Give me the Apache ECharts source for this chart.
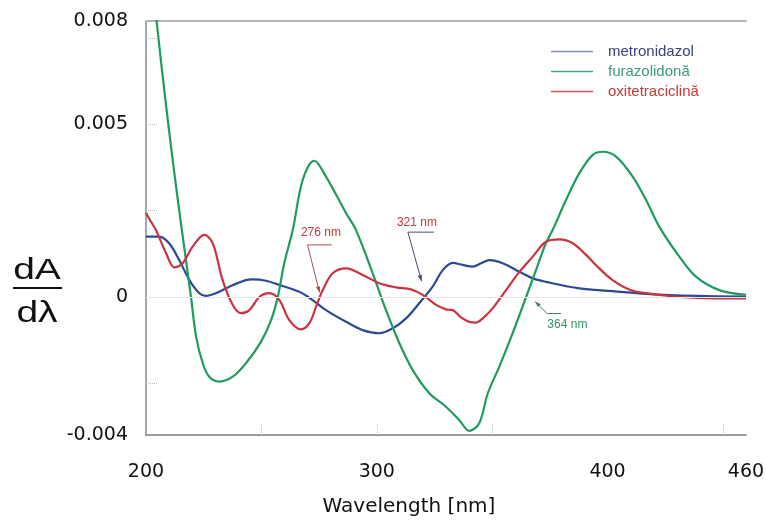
<!DOCTYPE html>
<html>
<head>
<meta charset="utf-8">
<script src="https://cdn.jsdelivr.net/npm/echarts@6/dist/echarts.min.js"></script>
<style>
html,body{margin:0;padding:0;background:#fff;}
#chart{width:766px;height:520px;}
</style>
</head>
<body>
<div id="chart"></div>
<script>
// ---- data ----
const seriesNames = ['metronidazol', 'furazolidonă', 'oxitetraciclină'];

const metroX = [200, 205.8, 210.1, 214.4, 218.8, 223.1, 226, 230.3, 236.1, 243.3, 246.2, 252, 257.8, 266.4, 272.2, 278, 286.7, 293.9, 301.1, 306.9, 312.7, 318.4, 324.2, 328.6, 332.9, 337.2, 341.6, 345.2, 348.8, 354.6, 361.8, 367.6, 373.3, 387.8, 402.2, 416.7, 438.3, 460];
const metroY = [0.00175, 0.00175, 0.00155, 0.00107, 0.00049, 0.00011, 0.00003, 0.00011, 0.0003, 0.00049, 0.00051, 0.00047, 0.00035, 0.00015, -0.00009, -0.00038, -0.00072, -0.00096, -0.00105, -0.00091, -0.00062, -0.00018, 0.0003, 0.00078, 0.00099, 0.00093, 0.00088, 0.00098, 0.00107, 0.00098, 0.00073, 0.00054, 0.00044, 0.00025, 0.00017, 0.00009, 0.00003, 0.00001];

const furaX = [200, 204.6, 209.5, 214, 219.5, 221.7, 224.6, 227.4, 231.8, 237.6, 243.3, 249.8, 254.2, 257.1, 259.9, 263.6, 267.9, 272.9, 278, 286.7, 291, 298.2, 304, 309.8, 315.6, 322.8, 330, 335.8, 340.1, 344.4, 348.1, 353.1, 358.9, 364.7, 369, 373.3, 376.2, 382, 387.8, 393.6, 397.9, 403.7, 410.9, 416.7, 422.4, 431.1, 438.3, 448.4, 460];
const furaY = [0.0112, 0.0080, 0.0051, 0.0027, 0.0, -0.00115, -0.00192, -0.00231, -0.00245, -0.00231, -0.00192, -0.0013, -0.00067, 0.0, 0.00098, 0.00194, 0.00339, 0.00395, 0.00349, 0.00243, 0.00194, 0.00069, -0.00038, -0.00134, -0.00212, -0.00279, -0.00318, -0.00357, -0.00388, -0.00366, -0.00279, -0.00202, -0.00105, 0.0, 0.00078, 0.00156, 0.00194, 0.00281, 0.00359, 0.00412, 0.00421, 0.00407, 0.00349, 0.00281, 0.00204, 0.00117, 0.00059, 0.0002, 0.00006];

const oxiX = [200, 202, 204.3, 208.7, 212.3, 215.9, 220.2, 225.3, 228.9, 233.2, 237.6, 241.2, 244.8, 249.1, 253.4, 257.8, 262.1, 267.2, 270.8, 273.7, 276.6, 280.9, 286.7, 293.9, 301.1, 308.3, 314.8, 319.9, 325.7, 330, 332.9, 336.5, 340.1, 343, 345.9, 350.2, 356, 361.8, 367.6, 373.3, 379.1, 384.9, 390.7, 396.4, 402.2, 409.4, 416.7, 431.1, 445.6, 460];
const oxiY = [0.00243, 0.0022, 0.00194, 0.00127, 0.00086, 0.00098, 0.00146, 0.0018, 0.00156, 0.00049, -0.00023, -0.00047, -0.00038, 0.0, 0.00011, -0.00009, -0.00067, -0.00094, -0.00076, -0.00028, 0.0002, 0.00069, 0.00083, 0.00064, 0.0004, 0.00028, 0.00022, 0.00006, -0.00023, -0.00036, -0.00038, -0.00059, -0.00072, -0.00074, -0.00062, -0.00033, 0.0002, 0.00073, 0.00117, 0.0016, 0.00167, 0.00156, 0.00122, 0.00083, 0.00049, 0.00022, 0.00011, 0.0, -0.00004, -0.00004];

const xTickLabels = [200, 300, 400, 460];
const xMinorTicks = [250, 300, 350, 450];
const yTickValues = [0.008, 0.005, 0, -0.004];
const yTickLabels = ['0.008', '0.005', '0', '-0.004'];
const yMinorTicks = [0.0075, 0.005, 0.0025, -0.0025];

// annotation labels (wavelength crossings)
const annLabels = ['276 nm', '321 nm', '364 nm'];
// ---- end data ----

const lineColors = ['#2c4a90', '#1f9b5f', '#cc3340'];
const legendLineColors = ['#8a90bc', '#3fa883', '#c8545e'];
const legendTextColors = ['#3b3f82', '#3b9c73', '#c23a3a'];

function pairs(xs, ys) { return xs.map((x, i) => [x, ys[i]]); }

const chart = echarts.init(document.getElementById('chart'), null, {renderer: 'canvas'});
const FONT = '"Liberation Sans", Arial, sans-serif';
const AXFONT = '"DejaVu Sans", sans-serif';

const option = {
  animation: false,
  backgroundColor: '#ffffff',
  grid: {left: 146, right: 20, top: 21, bottom: 85, containLabel: false, outerBoundsMode: 'none'},
  legend: {
    orient: 'vertical',
    left: 551, top: 44, padding: 0,
    icon: 'rect', itemWidth: 42, itemHeight: 1.5,
    itemGap: 5,
    textStyle: {fontFamily: FONT, fontSize: 15, padding: [0, 0, 0, 10]},
    data: seriesNames.map((n, i) => ({
      name: n,
      itemStyle: {color: legendLineColors[i]},
      textStyle: {color: legendTextColors[i]}
    }))
  },
  xAxis: [{
    type: 'value', min: 200, max: 460,
    name: 'Wavelength [nm]', nameLocation: 'middle', nameGap: 62,
    nameTextStyle: {fontFamily: AXFONT, fontSize: 20, color: '#111', padding: [0, 74, 0, 0]},
    axisLine: {show: true, onZero: false, lineStyle: {color: '#9a9a9a', width: 2}},
    axisTick: {show: true, inside: true, length: 12, customValues: xMinorTicks, lineStyle: {color: '#b8b8b8', type: 'dotted', width: 1}},
    axisLabel: {customValues: xTickLabels, margin: 28, fontFamily: AXFONT, fontSize: 19, color: '#111'},
    splitLine: {show: false}
  }, {
    type: 'value', min: 200, max: 460, position: 'top',
    axisLine: {show: true, onZero: false, lineStyle: {color: '#b4b4b4', width: 2}},
    axisTick: {show: false}, axisLabel: {show: false}, splitLine: {show: false}
  }],
  yAxis: {
    type: 'value', min: -0.004, max: 0.008,
    axisLine: {show: true, onZero: false, lineStyle: {color: '#8a8a8a', width: 1.5}},
    axisTick: {show: true, inside: true, length: 12, customValues: yMinorTicks, lineStyle: {color: '#b8b8b8', type: 'dotted', width: 1}},
    axisLabel: {
      customValues: yTickValues, margin: 18, fontFamily: AXFONT, fontSize: 19, color: '#111',
      padding: [8, 0, 0, 0],
      formatter: function (v) {
        for (let i = 0; i < yTickValues.length; i++) if (Math.abs(yTickValues[i] - v) < 1e-9) return yTickLabels[i];
        return '';
      }
    },
    splitLine: {show: false}
  },
  series: [
    {name: seriesNames[0], type: 'line', data: pairs(metroX, metroY), color: lineColors[0]},
    {name: seriesNames[1], type: 'line', data: pairs(furaX, furaY), color: lineColors[1]},
    {name: seriesNames[2], type: 'line', data: pairs(oxiX, oxiY), color: lineColors[2],
     markLine: {silent: true, symbol: 'none', label: {show: false},
       lineStyle: {color: '#e6e6e6', type: 'solid', width: 1}, data: [{yAxis: 0}]}}
  ].map(s => Object.assign({showSymbol: false, smooth: 0.35, clip: true,
    lineStyle: {width: 2.2}, z: 3}, s))
};
chart.setOption(option);

// annotation leaders defined in data space: text position, then elbow start, elbow, tip
const annDefs = [
  {text: annLabels[0], at: [275.8, 0.00186], color: '#c33a3a', lineColor: '#a8504f', path: [[280.5, 0.00151], [270.0, 0.00151], [275.2, 0.00013]]},
  {text: annLabels[1], at: [317.4, 0.00214], color: '#b83c3c', lineColor: '#4a4d6c', path: [[324.8, 0.00188], [313.5, 0.00188], [319.4, 0.00046]]},
  {text: annLabels[2], at: [382.6, -0.00081], color: '#2e9a62', lineColor: '#4e7a66', path: [[379.8, -0.00048], [373.8, -0.00048], [368.6, -0.00013]]}
];
const elems = [];
annDefs.forEach(a => {
  const tp = chart.convertToPixel({xAxisIndex: 0, yAxisIndex: 0}, a.at);
  elems.push({type: 'text', x: tp[0], y: tp[1], z: 10,
    style: {text: a.text, fill: a.color, font: '12px ' + FONT, align: 'center', verticalAlign: 'middle'}});
  const pts = a.path.map(p => chart.convertToPixel({xAxisIndex: 0, yAxisIndex: 0}, p));
  elems.push({type: 'polyline', z: 10, shape: {points: pts}, style: {stroke: a.lineColor, lineWidth: 1, fill: null}});
  const p1 = pts[pts.length - 2], p2 = pts[pts.length - 1];
  const ang = Math.atan2(p2[1] - p1[1], p2[0] - p1[0]);
  const L = 6, W = 2.2;
  const bx = p2[0] - L * Math.cos(ang), by = p2[1] - L * Math.sin(ang);
  elems.push({type: 'polygon', z: 10, shape: {points: [p2,
    [bx + W * Math.sin(ang), by - W * Math.cos(ang)],
    [bx - W * Math.sin(ang), by + W * Math.cos(ang)]]}, style: {fill: a.lineColor}});
});
// y-axis title dA / dλ
elems.push({type: 'text', x: 37, y: 271, scaleX: 1.3, originX: 0, originY: 0, style: {text: 'dA', font: '30px ' + FONT, fill: '#111', align: 'center', verticalAlign: 'middle'}});
elems.push({type: 'line', shape: {x1: 13, y1: 288, x2: 62, y2: 288}, style: {stroke: '#111', lineWidth: 2}});
elems.push({type: 'text', x: 37, y: 314, scaleX: 1.3, originX: 0, originY: 0, style: {text: 'dλ', font: '30px ' + FONT, fill: '#111', align: 'center', verticalAlign: 'middle'}});
chart.setOption({graphic: {elements: elems}});
</script>
</body>
</html>
